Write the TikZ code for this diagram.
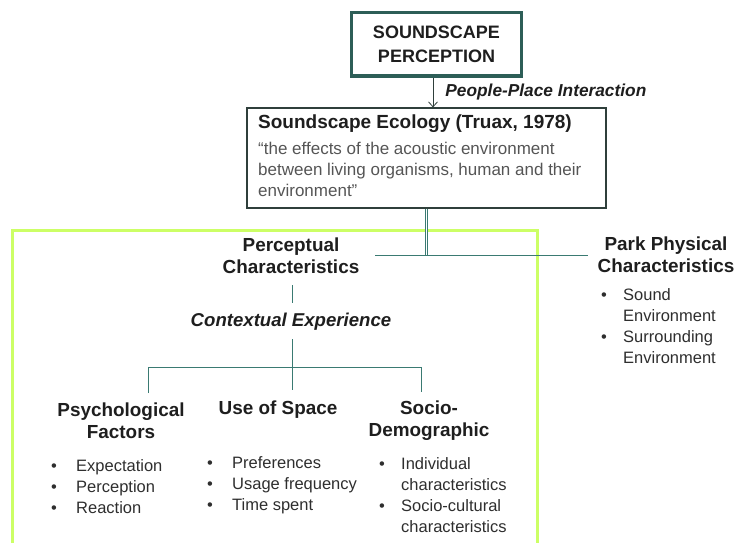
\documentclass[tikz,border=0pt]{standalone}
\usepackage{fontspec}
\setmainfont{Liberation Sans}
\usetikzlibrary{arrows.meta}
\definecolor{boxteal}{HTML}{2D5E57}
\definecolor{linkteal}{HTML}{3A7A72}
\definecolor{framelime}{HTML}{CCFF66}
\definecolor{ink}{HTML}{1E1E1E}
\definecolor{quotegray}{HTML}{555555}
\definecolor{listgray}{HTML}{2E2E2E}
\definecolor{ecoframe}{HTML}{2F3F3B}
\newcommand{\bul}[1]{\makebox[#1][l]{\textbullet}}
\begin{document}
\begin{tikzpicture}[x=1pt,y=-1pt,
  heading/.style={font=\fontsize{18.9}{22}\selectfont\bfseries, text=ink, align=center, inner sep=0pt},
  bulletlist/.style={font=\fontsize{16.5}{21}\selectfont, text=listgray, align=left, inner sep=0pt, anchor=west},
  link/.style={draw=linkteal, line width=1pt},
]
\useasboundingbox (0,0) rectangle (736,543);
\clip (0,0) rectangle (736,543);

% green frame around the perceptual branch
\draw[framelime, line width=3pt] (12.5,230.5) rectangle (537.5,560);

% top box
\node[draw=boxteal, line width=3pt, minimum width=170pt, minimum height=63pt,
      heading, font=\fontsize{18}{24}\selectfont\bfseries] (top) at (436.5,44.5)
      {SOUNDSCAPE\\PERCEPTION};

% ecology box
\node[draw=ecoframe, line width=1.2pt, minimum width=359pt, minimum height=100pt, inner sep=0pt]
      (eco) at (426.5,158) {};
\node[anchor=west, inner sep=0pt, font=\fontsize{19}{22}\selectfont\bfseries, text=ink]
      (ecotitle) at (258,124) {Soundscape Ecology (Truax, 1978)};
\node[anchor=west, inner sep=0pt, align=left, font=\fontsize{17}{21}\selectfont, text=quotegray]
      (ecoquote) at (258,169) {“the effects of the acoustic environment\\between living organisms, human and their\\environment”};

% arrow between top box and ecology box
\draw[draw=ecoframe, line width=0.8pt, -{Straight Barb[length=5pt,width=9pt]}]
      (top.south -| 433,0) -- (eco.north -| 433,0)
      node[midway, right=12pt, inner sep=0pt, font=\fontsize{17.3}{20}\selectfont\bfseries\itshape, text=ink]
      (ppi) {People-Place Interaction};

% split below ecology box
\coordinate (split) at (426.5,255);
\coordinate (splitL) at (375,255);
\coordinate (splitR) at (588,255);
\draw[draw=linkteal, line width=0.8pt, double=white, double distance=1.6pt] (eco.south -| split) -- (split);
\draw[link] (splitL) -- (splitR);

% branch headings
\node[heading] (perc) at (291,256) {Perceptual\\Characteristics};
\node[heading] (park) at (666,255) {Park Physical\\Characteristics};
\node[bulletlist] (parklist) at (601,326.5)
  {\bul{22pt}Sound\\\hspace*{22pt}Environment\\\bul{22pt}Surrounding\\\hspace*{22pt}Environment};

% contextual experience
\node[heading, font=\fontsize{18.6}{22}\selectfont\bfseries\itshape] (ctx) at (291,322) {Contextual Experience};
\coordinate (c1) at (292,285);
\coordinate (c2) at (292,303);
\draw[link] (c1) -- (c2);

\coordinate (c3) at (292,339);
\coordinate (c4) at (292,390);
\coordinate (fl) at (148,367);
\coordinate (fr) at (421,367);
\coordinate (fl2) at (148,393);
\coordinate (fr2) at (421,392);
\draw[link] (c3) -- (c4);
\draw[link] (fl2) -- (fl) -- (fr) -- (fr2);

% three factors
\node[heading] (psy) at (121,421) {Psychological\\Factors};
\node[heading] (use) at (278,410) {Use of Space};
\node[heading] (soc) at (429,421) {Socio-\\Demographic};

\node[bulletlist] (psylist) at (51,487)
  {\bul{25pt}Expectation\\\bul{25pt}Perception\\\bul{25pt}Reaction};
\node[bulletlist] (uselist) at (207,485)
  {\bul{25pt}Preferences\\\bul{25pt}Usage frequency\\\bul{25pt}Time spent};
\node[bulletlist] (soclist) at (379,495.5)
  {\bul{22pt}Individual\\\hspace*{22pt}characteristics\\\bul{22pt}Socio-cultural\\\hspace*{22pt}characteristics};
\end{tikzpicture}
\end{document}
